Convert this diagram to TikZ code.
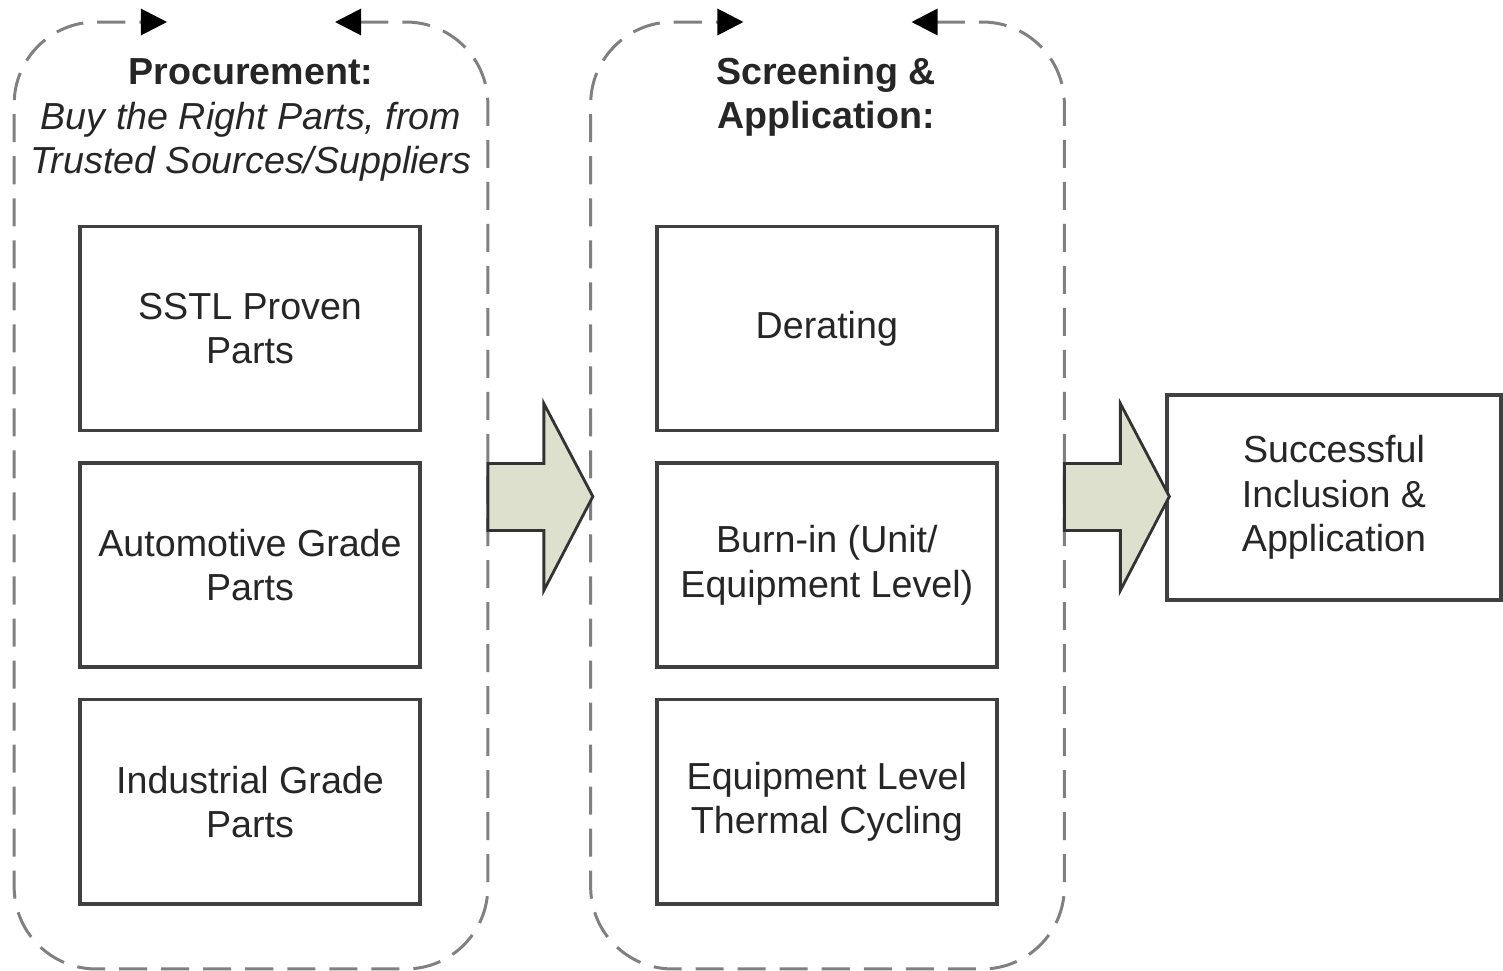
\documentclass[tikz,border=0pt]{standalone}
\usepackage{fontspec}
\setmainfont{Liberation Sans}
\usepackage{xcolor}
\usetikzlibrary{arrows.meta,positioning,calc}
\definecolor{arrowfill}{RGB}{221,224,204}

\begin{document}
\begin{tikzpicture}[
  x=0.01cm, y=-0.01cm,
  font=\fontsize{10.7}{12.6}\selectfont, text=black!85,
  frame/.style={rectangle, inner sep=0pt, minimum width=4.72cm, minimum height=9.45cm},
  cyc/.style={draw=gray, line width=0.85pt, dash pattern=on 0.28cm off 0.14cm,
              rounded corners=0.82cm, {Triangle[length=0.26cm, width=0.26cm, black]}-{Triangle[length=0.26cm, width=0.26cm, black]}},
  part/.style={rectangle, draw=black!75, line width=1pt, fill=white,
               align=center, minimum width=3.4cm, minimum height=2.04cm},
  blockarr/.style={draw=black!80, line width=0.8pt, fill=arrowfill, line join=miter}
]
\useasboundingbox (0,0) rectangle (1503,971);
% containers
\node[frame] (procure) at (251,495.5) {};
\node[frame] (screen)  at (827.5,495.5) {};
\foreach \c in {procure,screen}
  \draw[cyc] ($(\c.north)+(84,0)$) -| (\c.south east) -| (\c.north west) -- ($(\c.north)+(-84,0)$);
\node[align=center] (proctitle) at (251,120) {\textbf{Procurement:}\\\textit{Buy the Right Parts, from}\\\textit{Trusted Sources/Suppliers}};
\node[align=center, font=\fontsize{10.7}{12.6}\selectfont\bfseries] (scrtitle) at (826,97) {Screening \&\\Application:};
% parts
\node[part] (sstl) at (250,328.5) {SSTL Proven\\Parts};
\node[part, below=0.29cm of sstl] (auto) {Automotive Grade\\Parts};
\node[part, below=0.29cm of auto] (indus) {Industrial Grade\\Parts};
% screening
\node[part, right=2.33cm of sstl]  (derate) {Derating};
\node[part, right=2.33cm of auto]  (burnin) {Burn-in (Unit/\\Equipment Level)};
\node[part, right=2.33cm of indus] (thermal) {Equipment Level\\Thermal Cycling};
% result
\node[part, minimum width=3.34cm, minimum height=2.05cm] (result) at (1334,497.5) {Successful\\Inclusion \&\\Application};
% block arrows
\foreach \c in {procure,screen}
  \draw[blockarr] ($(\c.east)+(0,-32)$) -- ++(56,0) -- ++(0,-60) -- ($(\c.east)+(105,1)$)
    -- ($(\c.east)+(56,95)$) -- ++(0,-60) -- ($(\c.east)+(0,35)$) -- cycle;
\end{tikzpicture}
\end{document}
